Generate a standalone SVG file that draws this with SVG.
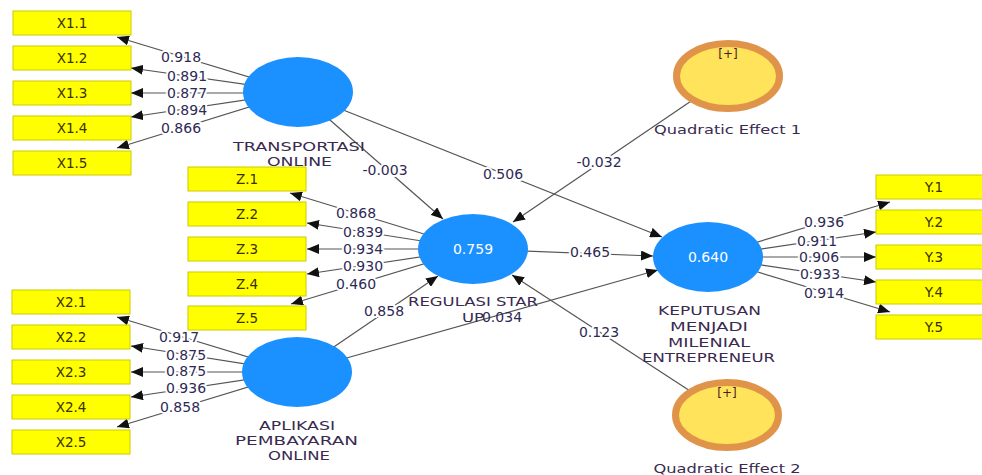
<svg xmlns="http://www.w3.org/2000/svg" width="982" height="475" viewBox="0 0 982 475">
<defs>
<marker id="arr" markerUnits="userSpaceOnUse" markerWidth="12" markerHeight="10" refX="12" refY="5" orient="auto">
<path d="M0,0 L12,5 L0,10 z" fill="#111"/>
</marker>
<style>
.bg{fill:#ffffff}
.box{fill:#ffff00;stroke:#cccc00;stroke-width:1}
.bl{font-family:"DejaVu Sans",sans-serif;font-size:13.5px;fill:#3a3000;text-anchor:middle}
.lv{fill:#1a91ff}
.lvt{font-family:"DejaVu Sans",sans-serif;font-size:14px;fill:#ffffff;text-anchor:middle}
.qe{fill:#ffe35a;stroke:#e0944a;stroke-width:7}
.qt{font-family:"DejaVu Sans",sans-serif;font-size:12px;fill:#4a1a2a;text-anchor:middle}
.nl{font-family:"DejaVu Sans",sans-serif;font-size:13px;fill:#3a2a50;text-anchor:middle}
.ln{stroke:#555;stroke-width:1.2;fill:none;marker-end:url(#arr)}
.w{font-family:"DejaVu Sans",sans-serif;font-size:14px;fill:#2e2a55;text-anchor:middle;stroke:#fff;stroke-width:4;paint-order:stroke;stroke-linejoin:round}
</style>
</defs>
<rect class="bg" x="0" y="0" width="982" height="475"/>

<g id="connectors">
<line class="ln" x1="298" y1="92" x2="117" y2="37"/>
<line class="ln" x1="298" y1="92" x2="131" y2="68"/>
<line class="ln" x1="298" y1="93" x2="131" y2="93"/>
<line class="ln" x1="298" y1="92" x2="131" y2="117"/>
<line class="ln" x1="298" y1="92" x2="117" y2="148"/>

<line class="ln" x1="473" y1="249" x2="290" y2="193"/>
<line class="ln" x1="473" y1="249" x2="307" y2="223"/>
<line class="ln" x1="473" y1="249" x2="307" y2="249"/>
<line class="ln" x1="473" y1="249" x2="307" y2="274"/>
<line class="ln" x1="473" y1="249" x2="291" y2="304"/>

<line class="ln" x1="297" y1="372" x2="117" y2="317"/>
<line class="ln" x1="297" y1="372" x2="131" y2="346"/>
<line class="ln" x1="297" y1="372" x2="131" y2="372"/>
<line class="ln" x1="297" y1="372" x2="131" y2="397"/>
<line class="ln" x1="297" y1="372" x2="117" y2="427"/>

<line class="ln" x1="708" y1="257" x2="890" y2="202"/>
<line class="ln" x1="708" y1="257" x2="876" y2="232"/>
<line class="ln" x1="708" y1="257" x2="876" y2="257"/>
<line class="ln" x1="708" y1="257" x2="876" y2="282"/>
<line class="ln" x1="708" y1="257" x2="890" y2="312"/>

<line class="ln" x1="298" y1="92" x2="443" y2="219"/>
<line class="ln" x1="298" y1="92" x2="662" y2="237"/>
<line class="ln" x1="473" y1="249" x2="653" y2="256"/>
<line class="ln" x1="297" y1="372" x2="438" y2="276"/>
<line class="ln" x1="297" y1="372" x2="658" y2="270"/>
<line class="ln" x1="728" y1="76" x2="513" y2="222"/>
<line class="ln" x1="727" y1="415" x2="512" y2="275"/>

<text class="w" x="181" y="62">0.918</text>
<text class="w" x="187" y="81">0.891</text>
<text class="w" x="187" y="98">0.877</text>
<text class="w" x="187" y="115">0.894</text>
<text class="w" x="181" y="133">0.866</text>

<text class="w" x="356" y="218">0.868</text>
<text class="w" x="363" y="237">0.839</text>
<text class="w" x="363" y="254">0.934</text>
<text class="w" x="363" y="271">0.930</text>
<text class="w" x="356" y="289">0.460</text>

<text class="w" x="179" y="342">0.917</text>
<text class="w" x="186" y="360">0.875</text>
<text class="w" x="186" y="376">0.875</text>
<text class="w" x="186" y="393">0.936</text>
<text class="w" x="180" y="412">0.858</text>

<text class="w" x="824" y="227">0.936</text>
<text class="w" x="817" y="246">0.911</text>
<text class="w" x="819" y="262">0.906</text>
<text class="w" x="820" y="279">0.933</text>
<text class="w" x="824" y="298">0.914</text>

<text class="w" x="385" y="175">-0.003</text>
<text class="w" x="503" y="179">0.506</text>
<text class="w" x="590" y="257">0.465</text>
<text class="w" x="384" y="316">0.858</text>
<text class="w" x="599" y="167">-0.032</text>
<text class="w" x="599" y="337">0.123</text>
</g>

<g id="X1.1"><rect class="box" x="13" y="11" width="118" height="24"/><text class="bl" x="72" y="28">X1.1</text></g>
<g id="X1.2"><rect class="box" x="13" y="46" width="118" height="24"/><text class="bl" x="72" y="63">X1.2</text></g>
<g id="X1.3"><rect class="box" x="13" y="81" width="118" height="24"/><text class="bl" x="72" y="98">X1.3</text></g>
<g id="X1.4"><rect class="box" x="13" y="116" width="118" height="24"/><text class="bl" x="72" y="133">X1.4</text></g>
<g id="X1.5"><rect class="box" x="13" y="151" width="118" height="24"/><text class="bl" x="72" y="168">X1.5</text></g>

<g id="Z.1"><rect class="box" x="188" y="167" width="118" height="24"/><text class="bl" x="247" y="184">Z.1</text></g>
<g id="Z.2"><rect class="box" x="188" y="202" width="118" height="24"/><text class="bl" x="247" y="219">Z.2</text></g>
<g id="Z.3"><rect class="box" x="188" y="237" width="118" height="24"/><text class="bl" x="247" y="254">Z.3</text></g>
<g id="Z.4"><rect class="box" x="188" y="272" width="118" height="24"/><text class="bl" x="247" y="289">Z.4</text></g>
<g id="Z.5"><rect class="box" x="188" y="306" width="118" height="24"/><text class="bl" x="247" y="323">Z.5</text></g>

<g id="X2.1"><rect class="box" x="12" y="290" width="118" height="24"/><text class="bl" x="71" y="307">X2.1</text></g>
<g id="X2.2"><rect class="box" x="12" y="325" width="118" height="24"/><text class="bl" x="71" y="342">X2.2</text></g>
<g id="X2.3"><rect class="box" x="12" y="360" width="118" height="24"/><text class="bl" x="71" y="377">X2.3</text></g>
<g id="X2.4"><rect class="box" x="12" y="395" width="118" height="24"/><text class="bl" x="71" y="412">X2.4</text></g>
<g id="X2.5"><rect class="box" x="12" y="430" width="118" height="24"/><text class="bl" x="71" y="447">X2.5</text></g>

<g id="Y.1"><rect class="box" x="876" y="175" width="116" height="24"/><text class="bl" x="934" y="192">Y.1</text></g>
<g id="Y.2"><rect class="box" x="876" y="210" width="116" height="24"/><text class="bl" x="934" y="227">Y.2</text></g>
<g id="Y.3"><rect class="box" x="876" y="245" width="116" height="24"/><text class="bl" x="934" y="262">Y.3</text></g>
<g id="Y.4"><rect class="box" x="876" y="280" width="116" height="24"/><text class="bl" x="934" y="297">Y.4</text></g>
<g id="Y.5"><rect class="box" x="876" y="315" width="116" height="24"/><text class="bl" x="934" y="332">Y.5</text></g>

<g id="transportasi">
<ellipse class="lv" cx="298" cy="92" rx="55" ry="35"/>
<text class="nl" x="299" y="151" textLength="132" lengthAdjust="spacingAndGlyphs">TRANSPORTASI</text>
<text class="nl" x="299.5" y="166" textLength="65" lengthAdjust="spacingAndGlyphs">ONLINE</text>
</g>
<g id="regulasi">
<ellipse class="lv" cx="473" cy="249" rx="55" ry="35"/>
<text class="lvt" x="473" y="254">0.759</text>
<text class="nl" x="473" y="306" textLength="130" lengthAdjust="spacingAndGlyphs">REGULASI STAR</text>
<text class="nl" x="473" y="322" textLength="22" lengthAdjust="spacingAndGlyphs">UP</text>
</g>
<text class="nl" x="502" y="322" style="fill:#2e2a55;font-size:14px">0.034</text>
<g id="aplikasi">
<ellipse class="lv" cx="297" cy="372" rx="55" ry="35"/>
<text class="nl" x="297" y="430" textLength="76" lengthAdjust="spacingAndGlyphs">APLIKASI</text>
<text class="nl" x="296.5" y="445" textLength="123" lengthAdjust="spacingAndGlyphs">PEMBAYARAN</text>
<text class="nl" x="299" y="460" textLength="62" lengthAdjust="spacingAndGlyphs">ONLINE</text>
</g>
<g id="keputusan">
<ellipse class="lv" cx="708" cy="257" rx="55" ry="35"/>
<text class="lvt" x="708" y="262">0.640</text>
<text class="nl" x="709.5" y="315" textLength="103" lengthAdjust="spacingAndGlyphs">KEPUTUSAN</text>
<text class="nl" x="709" y="331" textLength="78" lengthAdjust="spacingAndGlyphs">MENJADI</text>
<text class="nl" x="709" y="347" textLength="82" lengthAdjust="spacingAndGlyphs">MILENIAL</text>
<text class="nl" x="708.5" y="362" textLength="133" lengthAdjust="spacingAndGlyphs">ENTREPRENEUR</text>
</g>
<g id="qe1">
<ellipse class="qe" cx="728" cy="76" rx="51.5" ry="32.5"/>
<text class="qt" x="728" y="58">[+]</text>
<text class="nl" x="727.5" y="134" textLength="147" lengthAdjust="spacingAndGlyphs">Quadratic Effect 1</text>
</g>
<g id="qe2">
<ellipse class="qe" cx="727" cy="415" rx="51.5" ry="32.5"/>
<text class="qt" x="727" y="397">[+]</text>
<text class="nl" x="727" y="473" textLength="147" lengthAdjust="spacingAndGlyphs">Quadratic Effect 2</text>
</g>
</svg>
